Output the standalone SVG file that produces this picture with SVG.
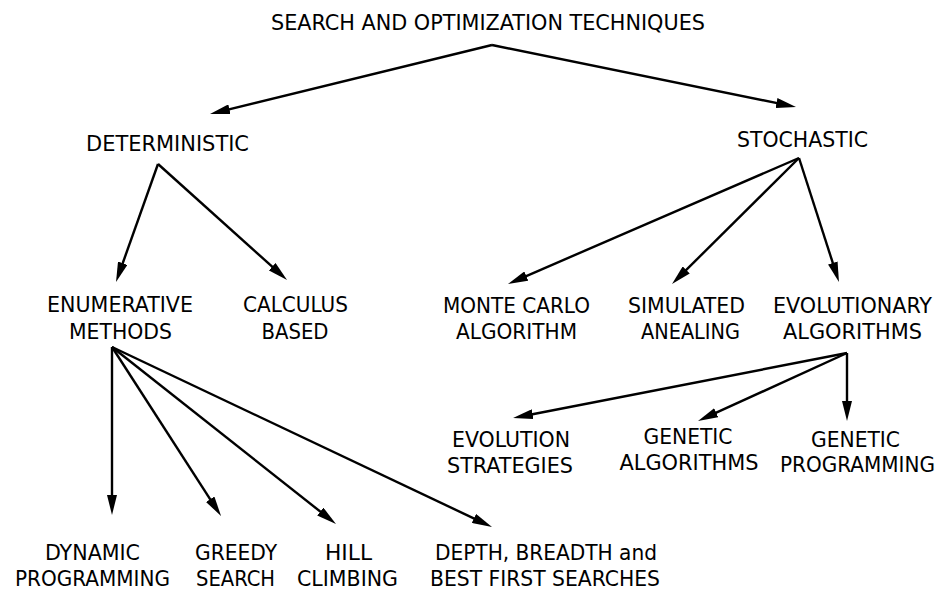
<svg xmlns="http://www.w3.org/2000/svg" width="938" height="590" viewBox="0 0 938 590">
  <style>
    text { font-family: 'DejaVu Sans Condensed', 'DejaVu Sans', sans-serif; font-size: 21px; fill: #000; text-anchor: middle; }
    .edge { stroke: #000; stroke-width: 2.4; fill: none; marker-end: url(#arrow); }
  </style>
  <defs>
    <marker id="arrow" markerUnits="userSpaceOnUse" markerWidth="20" markerHeight="10" refX="12" refY="5" orient="auto">
      <path d="M0,0 L20,5 L0,10 z" fill="#000"/>
    </marker>
  </defs>
  <rect width="938" height="590" fill="#fff"/>

  <!-- connectors -->
  <g id="connectors">
    <line class="edge" x1="492" y1="45" x2="217.8" y2="112.1"/>
    <line class="edge" x1="492" y1="45" x2="788.2" y2="105.4"/>
    <line class="edge" x1="158" y1="164" x2="118.7" y2="274.5"/>
    <line class="edge" x1="158" y1="164" x2="281.1" y2="274.7"/>
    <line class="edge" x1="799" y1="158" x2="515.3" y2="280.8"/>
    <line class="edge" x1="799" y1="158" x2="677.7" y2="278.4"/>
    <line class="edge" x1="799" y1="158" x2="836.5" y2="274.4"/>
    <line class="edge" x1="847" y1="353" x2="520.9" y2="416.5"/>
    <line class="edge" x1="847" y1="353" x2="705.3" y2="417.7"/>
    <line class="edge" x1="847" y1="353" x2="847" y2="413"/>
    <line class="edge" x1="112" y1="347" x2="112" y2="507"/>
    <line class="edge" x1="112" y1="347" x2="216.7" y2="509.3"/>
    <line class="edge" x1="112" y1="347" x2="329.7" y2="519.0"/>
    <line class="edge" x1="112" y1="347" x2="484.8" y2="523.6"/>
  </g>

  <!-- nodes -->
  <g id="root">
    <text x="488" y="30" textLength="434" lengthAdjust="spacingAndGlyphs">SEARCH AND OPTIMIZATION TECHNIQUES</text>
  </g>
  <g id="deterministic">
    <text x="167.5" y="151" textLength="163" lengthAdjust="spacingAndGlyphs">DETERMINISTIC</text>
  </g>
  <g id="stochastic">
    <text x="802.5" y="147" textLength="131" lengthAdjust="spacingAndGlyphs">STOCHASTIC</text>
  </g>
  <g id="enumerative">
    <text x="120" y="312" textLength="146" lengthAdjust="spacingAndGlyphs">ENUMERATIVE</text>
    <text x="120.5" y="339" textLength="103" lengthAdjust="spacingAndGlyphs">METHODS</text>
  </g>
  <g id="calculus">
    <text x="295.5" y="312" textLength="105" lengthAdjust="spacingAndGlyphs">CALCULUS</text>
    <text x="295" y="339" textLength="67" lengthAdjust="spacingAndGlyphs">BASED</text>
  </g>
  <g id="monte-carlo">
    <text x="516.5" y="313" textLength="147" lengthAdjust="spacingAndGlyphs">MONTE CARLO</text>
    <text x="516.5" y="339" textLength="121" lengthAdjust="spacingAndGlyphs">ALGORITHM</text>
  </g>
  <g id="simulated-annealing">
    <text x="686.5" y="313" textLength="117" lengthAdjust="spacingAndGlyphs">SIMULATED</text>
    <text x="690.5" y="339" textLength="99" lengthAdjust="spacingAndGlyphs">ANEALING</text>
  </g>
  <g id="evolutionary">
    <text x="852.5" y="313" textLength="159" lengthAdjust="spacingAndGlyphs">EVOLUTIONARY</text>
    <text x="852.5" y="339" textLength="139" lengthAdjust="spacingAndGlyphs">ALGORITHMS</text>
  </g>
  <g id="evolution-strategies">
    <text x="511" y="447" textLength="118" lengthAdjust="spacingAndGlyphs">EVOLUTION</text>
    <text x="510" y="473" textLength="126" lengthAdjust="spacingAndGlyphs">STRATEGIES</text>
  </g>
  <g id="genetic-algorithms">
    <text x="688" y="444" textLength="89" lengthAdjust="spacingAndGlyphs">GENETIC</text>
    <text x="689" y="470" textLength="139" lengthAdjust="spacingAndGlyphs">ALGORITHMS</text>
  </g>
  <g id="genetic-programming">
    <text x="855.5" y="447" textLength="89" lengthAdjust="spacingAndGlyphs">GENETIC</text>
    <text x="857.5" y="472" textLength="155" lengthAdjust="spacingAndGlyphs">PROGRAMMING</text>
  </g>
  <g id="dynamic-programming">
    <text x="92.5" y="560" textLength="95" lengthAdjust="spacingAndGlyphs">DYNAMIC</text>
    <text x="92.5" y="586" textLength="155" lengthAdjust="spacingAndGlyphs">PROGRAMMING</text>
  </g>
  <g id="greedy-search">
    <text x="236" y="560" textLength="82" lengthAdjust="spacingAndGlyphs">GREEDY</text>
    <text x="235.5" y="586" textLength="79" lengthAdjust="spacingAndGlyphs">SEARCH</text>
  </g>
  <g id="hill-climbing">
    <text x="348.5" y="560" textLength="47" lengthAdjust="spacingAndGlyphs">HILL</text>
    <text x="347.5" y="586" textLength="101" lengthAdjust="spacingAndGlyphs">CLIMBING</text>
  </g>
  <g id="depth-breadth-best-first">
    <text x="546" y="560" textLength="222" lengthAdjust="spacingAndGlyphs">DEPTH, BREADTH and</text>
    <text x="545" y="586" textLength="230" lengthAdjust="spacingAndGlyphs">BEST FIRST SEARCHES</text>
  </g>
</svg>
